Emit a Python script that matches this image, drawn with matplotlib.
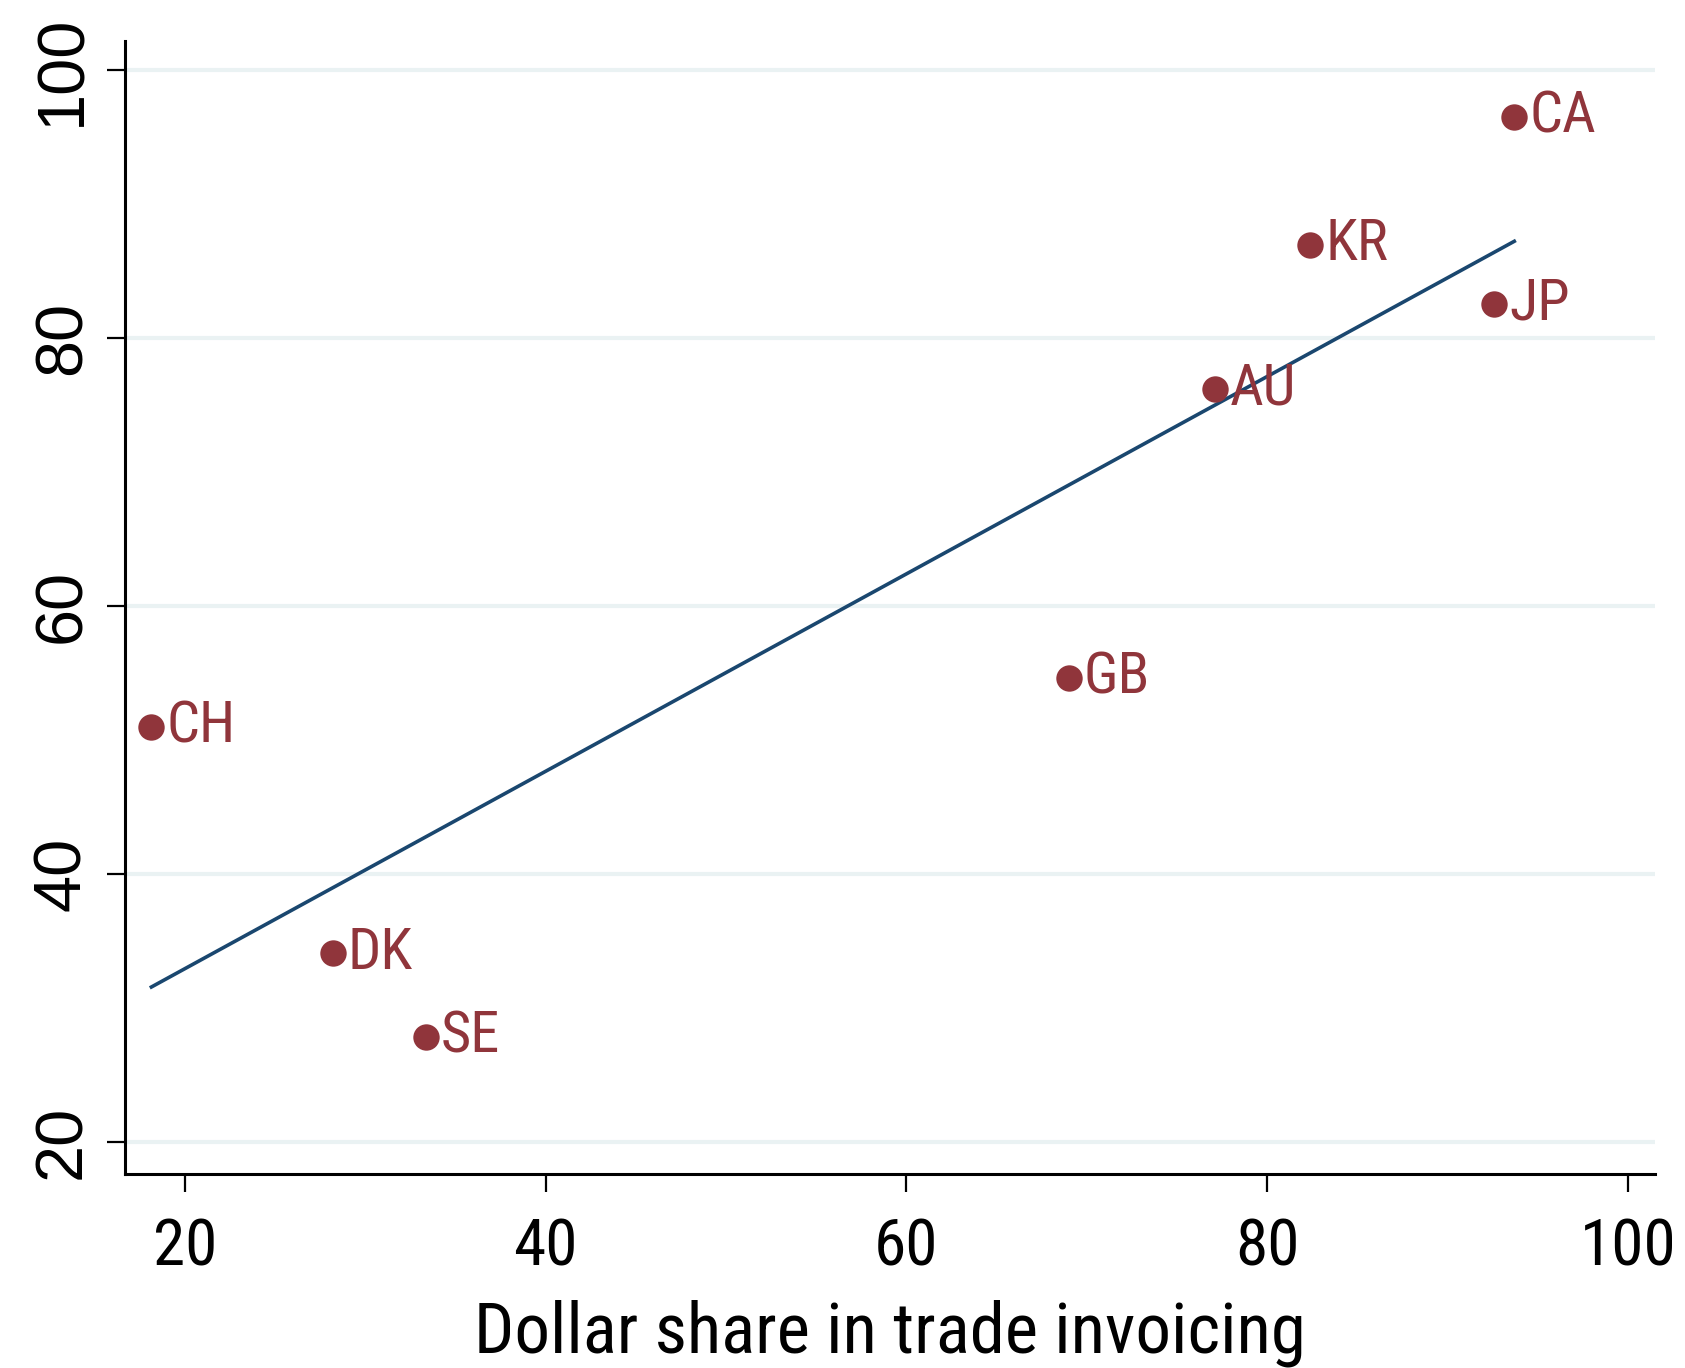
import numpy as np
import matplotlib
matplotlib.use('Agg')
import matplotlib.pyplot as plt

plt.rcParams['font.family'] = ['Roboto Condensed', 'Liberation Sans', 'DejaVu Sans']

countries = ['CH', 'DK', 'SE', 'GB', 'AU', 'KR', 'JP', 'CA']
dollar_share = [18.15, 28.2, 33.35, 69.0, 77.1, 82.4, 92.6, 93.7]
y_values = [51.0, 34.1, 27.85, 54.6, 76.25, 87.0, 82.6, 96.55]
x_ticks = [20, 40, 60, 80, 100]
y_ticks = [20, 40, 60, 80, 100]

marker_color = '#90353b'
line_color = '#1a476f'
grid_color = '#eaf2f3'

fig = plt.figure(figsize=(16.85, 13.68), dpi=100)
ax = fig.add_axes([124.7 / 1685, 1 - 1173.5 / 1368, (1655 - 124.7) / 1685, (1173.5 - 41) / 1368])

# linear fit over the observed range
slope, intercept = np.polyfit(dollar_share, y_values, 1)
xs = np.array([min(dollar_share), max(dollar_share)])
ax.plot(xs, intercept + slope * xs, color=line_color, lw=2.6, zorder=2)

ax.plot(dollar_share, y_values, 'o', color=marker_color, ms=19, mec='none', zorder=3)
for c, x, y in zip(countries, dollar_share, y_values):
    ax.annotate(c, (x, y), xytext=(11, 0), textcoords='offset points',
                va='center', ha='left', color=marker_color, fontsize=42, zorder=4)

ax.set_xlim(16.67, 101.5)
ax.set_ylim(17.64, 102.2)
ax.set_xticks(x_ticks)
ax.set_yticks(y_ticks, [str(t) for t in y_ticks])
for t in y_ticks:
    ax.axhline(t, color=grid_color, lw=3, zorder=0)

for s in ['top', 'right']:
    ax.spines[s].set_visible(False)
for s in ['left', 'bottom']:
    ax.spines[s].set_linewidth(2.2)
ax.tick_params(axis='both', length=13, width=1.6)
ax.tick_params(axis='x', labelsize=47, pad=18)
ax.tick_params(axis='y', labelsize=48, pad=9, labelrotation=90)
for lbl in ax.get_yticklabels():
    lbl.set_fontfamily(['Liberation Sans', 'DejaVu Sans'])
    lbl.set_verticalalignment('center')
ax.set_xlabel('Dollar share in trade invoicing', fontsize=51, labelpad=15)

fig.savefig('out.png', dpi=100)
